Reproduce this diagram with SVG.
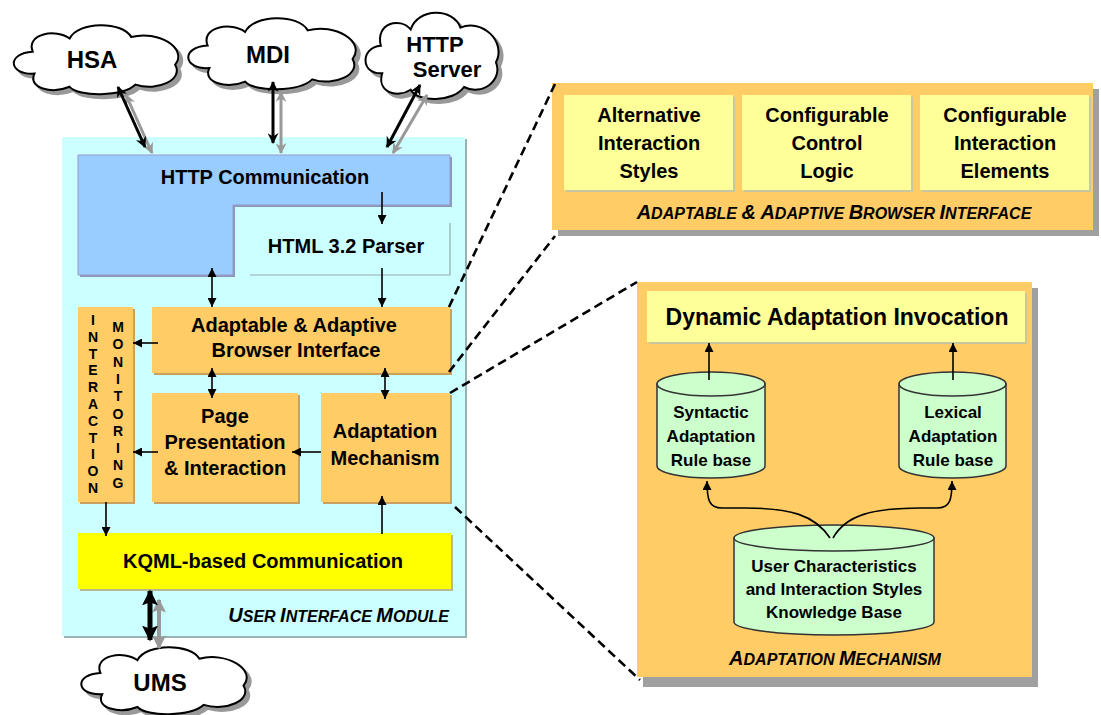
<svg xmlns="http://www.w3.org/2000/svg" xmlns:xlink="http://www.w3.org/1999/xlink" width="1101" height="715" viewBox="0 0 1101 715">
  <style>
    text { font-family: "Liberation Sans", Arial, sans-serif; font-weight: bold; fill: #000; }
    .c { text-anchor: middle; }
    .t20 { font-size: 20px; }
    .t17 { font-size: 17px; }
    .cloudtxt { font-size: 24px; text-anchor: middle; }
    .ttl { font-style: italic; font-size: 16px; }
    .ttl .big { font-size: 20px; }
    .vert { font-size: 14px; text-anchor: middle; }
    .thin { stroke: #000; stroke-width: 1.6; fill: none; }
    .thick { stroke: #000; stroke-width: 3; fill: none; }
    .thickg { stroke: #999; stroke-width: 3; fill: none; }
    .dash { stroke: #000; stroke-width: 2.6; stroke-dasharray: 9 5; fill: none; }
    .orange { fill: #ffcc66; }
    .oshadow { fill: #c9a060; }
    .yellow { fill: #ffff99; }
    .yshadow { fill: #c8c8a0; }
    .panelsh { fill: #a0a0a0; }
    .cyl { fill: #ccffcc; stroke: #333; stroke-width: 1.5; }
    .cloudf { fill: #fff; stroke: #000; stroke-width: 2; }
    .clouds { fill: #999; stroke: #999; stroke-width: 2; }
  </style>
  <defs>
    <path id="cloud" vector-effect="non-scaling-stroke" d="M -70,20 C -100,22 -102,-8 -72,-10 C -80,-35 -45,-42 -30,-28 C -20,-52 30,-52 40,-30 C 70,-40 105,-15 90,8 C 100,28 70,45 45,35 C 30,52 -20,52 -30,38 C -50,48 -78,40 -70,20 Z"/>
    <marker id="ah" viewBox="0 0 10 10" refX="10" refY="5" markerWidth="10" markerHeight="9" markerUnits="userSpaceOnUse" orient="auto-start-reverse">
      <path d="M0,0 L10,5 L0,10 z" fill="#000"/>
    </marker>
    <marker id="hb" viewBox="0 0 10 10" refX="9" refY="5" markerWidth="13" markerHeight="11" markerUnits="userSpaceOnUse" orient="auto-start-reverse">
      <path d="M0,0 L10,5 L0,10 L3,5 z" fill="#000"/>
    </marker>
    <marker id="hg" viewBox="0 0 10 10" refX="9" refY="5" markerWidth="13" markerHeight="11" markerUnits="userSpaceOnUse" orient="auto-start-reverse">
      <path d="M0,0 L10,5 L0,10 L3,5 z" fill="#999"/>
    </marker>
    <marker id="hbb" viewBox="0 0 10 10" refX="9" refY="5" markerWidth="16" markerHeight="16" markerUnits="userSpaceOnUse" orient="auto-start-reverse">
      <path d="M0,0 L10,5 L0,10 L2,5 z" fill="#000"/>
    </marker>
    <marker id="hgb" viewBox="0 0 10 10" refX="9" refY="5" markerWidth="14" markerHeight="14" markerUnits="userSpaceOnUse" orient="auto-start-reverse">
      <path d="M0,0 L10,5 L0,10 L2,5 z" fill="#999"/>
    </marker>
  </defs>

  <rect width="1101" height="715" fill="#fff"/>

  <!-- user interface module container -->
  <g id="ui-module">
    <rect x="64" y="139" width="403" height="499" fill="#99b3b3"/>
    <rect x="62" y="137" width="403" height="499" fill="#ccffff"/>
    <text x="449" y="622" class="ttl" text-anchor="end"><tspan class="big">U</tspan>SER <tspan class="big">I</tspan>NTERFACE <tspan class="big">M</tspan>ODULE</text>
  </g>

  <!-- clouds -->
  <g id="cloud-hsa">
    <use xlink:href="#cloud" class="clouds" transform="translate(100,63) scale(0.879,0.731)"/>
    <use xlink:href="#cloud" class="cloudf" transform="translate(96,59) scale(0.879,0.731)"/>
    <text x="92" y="68" class="cloudtxt">HSA</text>
  </g>
  <g id="cloud-mdi">
    <use xlink:href="#cloud" class="clouds" transform="translate(276,57) scale(0.895,0.753)"/>
    <use xlink:href="#cloud" class="cloudf" transform="translate(272,53) scale(0.895,0.753)"/>
    <text x="268" y="63" class="cloudtxt">MDI</text>
  </g>
  <g id="cloud-http-server">
    <use xlink:href="#cloud" class="clouds" transform="translate(436,59) scale(0.711,0.914)"/>
    <use xlink:href="#cloud" class="cloudf" transform="translate(432,55) scale(0.711,0.914)"/>
    <text x="435" y="52" class="c" font-size="22">HTTP</text>
    <text x="447" y="77" class="c" font-size="22">Server</text>
  </g>
  <g id="cloud-ums">
    <use xlink:href="#cloud" class="clouds" transform="translate(168,684) scale(0.884,0.71)"/>
    <use xlink:href="#cloud" class="cloudf" transform="translate(164,680) scale(0.884,0.71)"/>
    <text x="160" y="691" class="cloudtxt">UMS</text>
  </g>

  <!-- HTTP communication (L-shaped) -->
  <g id="http-communication">
    <polygon points="80,157 452,157 452,207 235,207 235,277 80,277" fill="#8899bb"/>
    <polygon points="78,155 450,155 450,205 233,205 233,275 78,275" fill="#99ccff" stroke="#9999cc" stroke-width="1"/>
    <text x="265" y="184" class="c t20">HTTP Communication</text>
  </g>

  <!-- HTML parser -->
  <g id="html-parser">
    <path d="M450,223 V275 H250" fill="none" stroke="#99aaaa" stroke-width="1.2"/>
    <text x="346" y="253" class="c t20">HTML 3.2 Parser</text>
  </g>

  <!-- adaptable & adaptive browser interface -->
  <g id="browser-interface">
    <rect x="154" y="309" width="298" height="66" class="oshadow"/>
    <rect x="152" y="307" width="298" height="66" class="orange"/>
    <text x="294" y="332" class="c t20">Adaptable &amp; Adaptive</text>
    <text x="296" y="357" class="c t20">Browser Interface</text>
  </g>

  <!-- interaction monitoring -->
  <g id="interaction-monitoring">
    <rect x="80" y="309" width="55" height="195" class="oshadow"/>
    <rect x="78" y="307" width="55" height="195" class="orange"/>
    <text class="vert" x="93" y="325"><tspan x="93">I</tspan><tspan x="93" dy="16.8">N</tspan><tspan x="93" dy="16.8">T</tspan><tspan x="93" dy="16.8">E</tspan><tspan x="93" dy="16.8">R</tspan><tspan x="93" dy="16.8">A</tspan><tspan x="93" dy="16.8">C</tspan><tspan x="93" dy="16.8">T</tspan><tspan x="93" dy="16.8">I</tspan><tspan x="93" dy="16.8">O</tspan><tspan x="93" dy="16.8">N</tspan></text>
    <text class="vert" x="118" y="332"><tspan x="118">M</tspan><tspan x="118" dy="17.3">O</tspan><tspan x="118" dy="17.3">N</tspan><tspan x="118" dy="17.3">I</tspan><tspan x="118" dy="17.3">T</tspan><tspan x="118" dy="17.3">O</tspan><tspan x="118" dy="17.3">R</tspan><tspan x="118" dy="17.3">I</tspan><tspan x="118" dy="17.3">N</tspan><tspan x="118" dy="17.3">G</tspan></text>
  </g>

  <!-- page presentation -->
  <g id="page-presentation">
    <rect x="154" y="395" width="146" height="109" class="oshadow"/>
    <rect x="152" y="393" width="146" height="109" class="orange"/>
    <text x="225" y="423" class="c t20">Page</text>
    <text x="225" y="449" class="c t20">Presentation</text>
    <text x="225" y="475" class="c t20">&amp; Interaction</text>
  </g>

  <!-- adaptation mechanism (left) -->
  <g id="adaptation-mechanism">
    <rect x="323" y="395" width="129" height="109" class="oshadow"/>
    <rect x="321" y="393" width="129" height="109" class="orange"/>
    <text x="385" y="438" class="c t20">Adaptation</text>
    <text x="385" y="465" class="c t20">Mechanism</text>
  </g>

  <!-- KQML communication -->
  <g id="kqml-communication">
    <rect x="80" y="535" width="373" height="56" fill="#b8b890"/>
    <rect x="78" y="533" width="373" height="56" fill="#ffff00"/>
    <text x="263" y="568" class="c t20">KQML-based Communication</text>
  </g>

  <!-- browser interface detail panel -->
  <g id="browser-interface-detail">
    <rect x="558" y="89" width="541" height="147" class="panelsh"/>
    <rect x="552" y="83" width="541" height="147" class="orange"/>
    <rect x="566" y="97" width="169" height="95" class="yshadow"/>
    <rect x="564" y="95" width="169" height="95" class="yellow"/>
    <rect x="744" y="97" width="169" height="95" class="yshadow"/>
    <rect x="742" y="95" width="169" height="95" class="yellow"/>
    <rect x="922" y="97" width="169" height="95" class="yshadow"/>
    <rect x="920" y="95" width="169" height="95" class="yellow"/>
    <text x="649" y="122" class="c t20">Alternative</text>
    <text x="649" y="150" class="c t20">Interaction</text>
    <text x="649" y="178" class="c t20">Styles</text>
    <text x="827" y="122" class="c t20">Configurable</text>
    <text x="827" y="150" class="c t20">Control</text>
    <text x="827" y="178" class="c t20">Logic</text>
    <text x="1005" y="122" class="c t20">Configurable</text>
    <text x="1005" y="150" class="c t20">Interaction</text>
    <text x="1005" y="178" class="c t20">Elements</text>
    <text x="834" y="219" class="ttl c"><tspan class="big">A</tspan>DAPTABLE <tspan class="big">&amp;</tspan> <tspan class="big">A</tspan>DAPTIVE <tspan class="big">B</tspan>ROWSER <tspan class="big">I</tspan>NTERFACE</text>
  </g>

  <!-- adaptation mechanism detail panel -->
  <g id="adaptation-detail">
    <rect x="643" y="288" width="395" height="399" class="panelsh"/>
    <rect x="637" y="282" width="395" height="395" class="orange"/>
    <rect x="649" y="293" width="378" height="51" class="yshadow"/>
    <rect x="647" y="291" width="378" height="51" class="yellow"/>
    <text x="837" y="325" class="c" font-size="23">Dynamic Adaptation Invocation</text>
    <text x="835" y="665" class="ttl c"><tspan class="big">A</tspan>DAPTATION <tspan class="big">M</tspan>ECHANISM</text>
  </g>

  <g id="syntactic-rule-base">
    <path class="cyl" d="M657,384 V466 A54,12 0 0 0 765,466 V384 Z"/>
    <ellipse class="cyl" cx="711" cy="384" rx="54" ry="12"/>
    <text x="711" y="418" class="c t17">Syntactic</text>
    <text x="711" y="442" class="c t17">Adaptation</text>
    <text x="711" y="466" class="c t17">Rule base</text>
  </g>
  <g id="lexical-rule-base">
    <path class="cyl" d="M899,384 V466 A53.5,12 0 0 0 1006,466 V384 Z"/>
    <ellipse class="cyl" cx="952.5" cy="384" rx="53.5" ry="12"/>
    <text x="953" y="418" class="c t17">Lexical</text>
    <text x="953" y="442" class="c t17">Adaptation</text>
    <text x="953" y="466" class="c t17">Rule base</text>
  </g>
  <g id="knowledge-base">
    <path class="cyl" d="M734,538 V622 A100,13 0 0 0 934,622 V538 Z"/>
    <ellipse class="cyl" cx="834" cy="538" rx="100" ry="13"/>
    <text x="834" y="572" class="c t17">User Characteristics</text>
    <text x="834" y="595" class="c t17">and Interaction Styles</text>
    <text x="834" y="618" class="c t17">Knowledge Base</text>
  </g>

  <!-- connectors -->
  <g id="connectors">
    <!-- cloud links -->
    <line class="thickg" x1="126" y1="95" x2="152" y2="153" marker-start="url(#hg)" marker-end="url(#hg)"/>
    <line class="thick" x1="118" y1="87" x2="145" y2="147" marker-start="url(#hb)" marker-end="url(#hb)"/>
    <line class="thickg" x1="281" y1="92" x2="281" y2="153" marker-start="url(#hg)" marker-end="url(#hg)"/>
    <line class="thick" x1="273" y1="82" x2="273" y2="143" marker-start="url(#hb)" marker-end="url(#hb)"/>
    <line class="thickg" x1="427" y1="95" x2="393" y2="153" marker-start="url(#hg)" marker-end="url(#hg)"/>
    <line class="thick" x1="420" y1="85" x2="387" y2="147" marker-start="url(#hb)" marker-end="url(#hb)"/>
    <line x1="159" y1="600" x2="159" y2="648" stroke="#999" stroke-width="4" marker-start="url(#hgb)" marker-end="url(#hgb)"/>
    <line x1="150" y1="591" x2="150" y2="640" stroke="#000" stroke-width="5" marker-start="url(#hbb)" marker-end="url(#hbb)"/>

    <!-- internal links -->
    <line class="thin" x1="382" y1="192" x2="382" y2="224" marker-end="url(#ah)"/>
    <line class="thin" x1="382" y1="268" x2="382" y2="307" marker-end="url(#ah)"/>
    <line class="thin" x1="212" y1="268" x2="212" y2="307" marker-start="url(#ah)" marker-end="url(#ah)"/>
    <line class="thin" x1="158" y1="343" x2="133" y2="343" marker-end="url(#ah)"/>
    <line class="thin" x1="212" y1="368" x2="212" y2="398" marker-start="url(#ah)" marker-end="url(#ah)"/>
    <line class="thin" x1="385" y1="368" x2="385" y2="399" marker-start="url(#ah)" marker-end="url(#ah)"/>
    <line class="thin" x1="321" y1="452" x2="292" y2="452" marker-end="url(#ah)"/>
    <line class="thin" x1="158" y1="452" x2="133" y2="452" marker-end="url(#ah)"/>
    <line class="thin" x1="106" y1="502" x2="106" y2="536" marker-end="url(#ah)"/>
    <line class="thin" x1="382" y1="534" x2="382" y2="496" marker-end="url(#ah)"/>

    <!-- adaptation detail links -->
    <line class="thin" x1="709" y1="380" x2="709" y2="343" marker-end="url(#ah)"/>
    <line class="thin" x1="953" y1="380" x2="953" y2="343" marker-end="url(#ah)"/>
    <path class="thin" d="M830,538 C815,515 790,508 745,508 L722,508 C709,508 707,500 707,481" marker-end="url(#ah)"/>
    <path class="thin" d="M833,538 C846,515 872,508 922,508 L937,508 C950,508 952,500 952,481" marker-end="url(#ah)"/>

    <!-- zoom-out guides -->
    <line class="dash" x1="449" y1="307" x2="555" y2="84"/>
    <line class="dash" x1="449" y1="372" x2="555" y2="236"/>
    <line class="dash" x1="450" y1="393" x2="637" y2="282"/>
    <line class="dash" x1="455" y1="507" x2="640" y2="680"/>
  </g>
</svg>
